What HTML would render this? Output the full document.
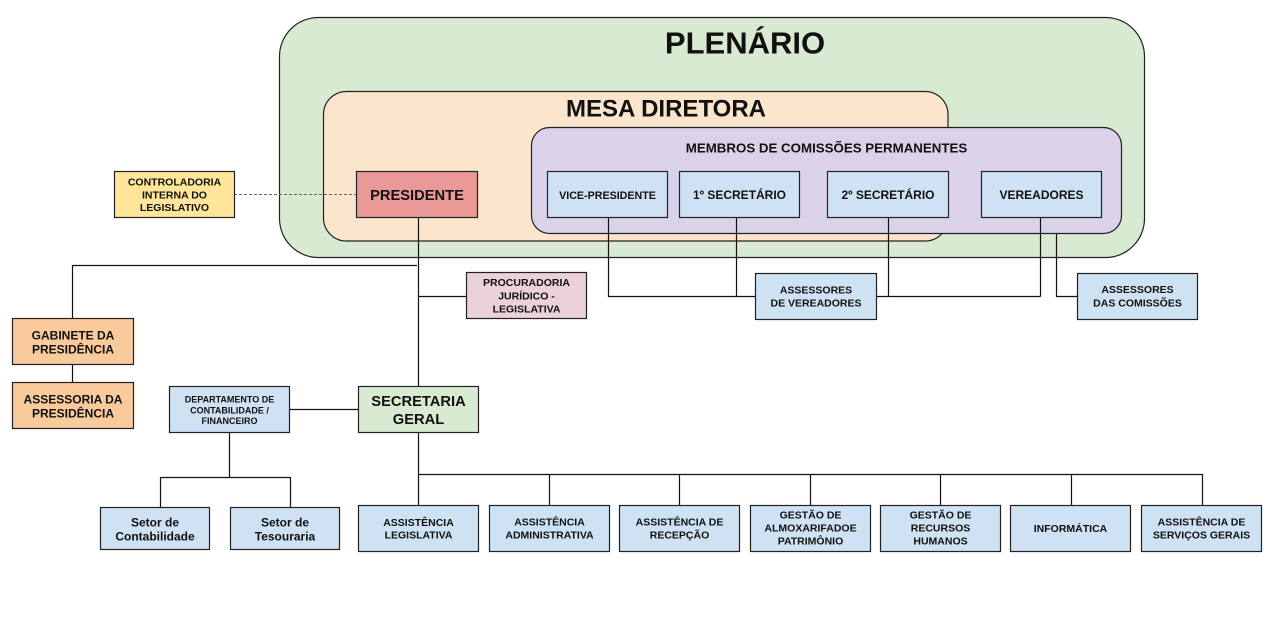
<!DOCTYPE html>
<html><head><meta charset="utf-8"><style>
html,body{margin:0;padding:0;background:#fff;}
svg{display:block;}
text{font-family:"Liberation Sans",Arial,sans-serif;font-weight:bold;fill:#111;text-anchor:middle;}
</style></head><body>
<svg width="1287" height="628" viewBox="0 0 1287 628" xmlns="http://www.w3.org/2000/svg">
<rect x="0" y="0" width="1287" height="628" fill="#fff"/>
<!-- containers -->
<rect x="279.5" y="17.5" width="865" height="240" rx="39" ry="39" fill="#d9ead3" stroke="#222" stroke-width="1.2"/>
<rect x="323.5" y="91.5" width="624.5" height="149.5" rx="23" ry="23" fill="#fce5cd" stroke="#222" stroke-width="1.2"/>
<rect x="531.5" y="127.5" width="590" height="106" rx="18" ry="18" fill="#d9d2e9" stroke="#222" stroke-width="1.2"/>
<text x="745" y="53.5" font-size="31">PLENÁRIO</text>
<text x="666" y="116.5" font-size="24">MESA DIRETORA</text>
<text x="826.5" y="152.3" font-size="13.3">MEMBROS DE COMISSÕES PERMANENTES</text>

<!-- connectors -->
<g stroke="#111" stroke-width="1.2" fill="none">
<line x1="418.5" y1="217" x2="418.5" y2="386"/>
<line x1="72.5" y1="265.5" x2="417" y2="265.5"/>
<line x1="72.5" y1="265" x2="72.5" y2="318"/>
<line x1="72.5" y1="364" x2="72.5" y2="382"/>
<line x1="418" y1="296.5" x2="466" y2="296.5"/>
<line x1="289" y1="409.5" x2="358" y2="409.5"/>
<line x1="229.5" y1="432" x2="229.5" y2="477.5"/>
<line x1="160.5" y1="477.5" x2="290.5" y2="477.5"/>
<line x1="160.5" y1="477" x2="160.5" y2="507"/>
<line x1="290.5" y1="477" x2="290.5" y2="507"/>
<line x1="418.5" y1="432" x2="418.5" y2="505"/>
<line x1="418" y1="474.5" x2="1202.5" y2="474.5"/>
<line x1="549.5" y1="474" x2="549.5" y2="505"/>
<line x1="679.5" y1="474" x2="679.5" y2="505"/>
<line x1="810.5" y1="474" x2="810.5" y2="505"/>
<line x1="940.5" y1="474" x2="940.5" y2="505"/>
<line x1="1071.5" y1="474" x2="1071.5" y2="505"/>
<line x1="1202.5" y1="474" x2="1202.5" y2="505"/>
<polyline points="608.5,217 608.5,296.5 755,296.5"/>
<line x1="736.5" y1="217" x2="736.5" y2="296.5"/>
<polyline points="888.5,217 888.5,296.5 876,296.5"/>
<line x1="888" y1="296.5" x2="1040.5" y2="296.5"/>
<line x1="1040.5" y1="217" x2="1040.5" y2="296.5"/>
<polyline points="1056.5,233 1056.5,296.5 1077,296.5"/>
</g>
<line x1="234" y1="194.5" x2="356" y2="194.5" stroke="#666" stroke-width="1" stroke-dasharray="3,2"/>

<!-- boxes -->
<g stroke="#222" stroke-width="1.2">
<rect x="114.5" y="171.5" width="120" height="46" fill="#ffe599"/>
<rect x="356.5" y="171.5" width="121" height="46" fill="#ea9999"/>
<rect x="547.5" y="171.5" width="120" height="46" fill="#cfe2f3"/>
<rect x="679.5" y="171.5" width="120" height="46" fill="#cfe2f3"/>
<rect x="827.5" y="171.5" width="121" height="46" fill="#cfe2f3"/>
<rect x="981.5" y="171.5" width="120" height="46" fill="#cfe2f3"/>
<rect x="466.5" y="272.5" width="120" height="46" fill="#ead1dc"/>
<rect x="755.5" y="273.5" width="121" height="46" fill="#cfe2f3"/>
<rect x="1077.5" y="273.5" width="120" height="46" fill="#cfe2f3"/>
<rect x="12.5" y="318.5" width="121" height="46" fill="#f9cb9c"/>
<rect x="12.5" y="382.5" width="121" height="46" fill="#f9cb9c"/>
<rect x="169.5" y="386.5" width="120" height="46" fill="#cfe2f3"/>
<rect x="358.5" y="386.5" width="120" height="46" fill="#d9ead3"/>
<rect x="100.5" y="507.5" width="109" height="42" fill="#cfe2f3"/>
<rect x="230.5" y="507.5" width="109" height="42" fill="#cfe2f3"/>
<rect x="358.5" y="505.5" width="120" height="46" fill="#cfe2f3"/>
<rect x="489.5" y="505.5" width="120" height="46" fill="#cfe2f3"/>
<rect x="619.5" y="505.5" width="120" height="46" fill="#cfe2f3"/>
<rect x="750.5" y="505.5" width="120" height="46" fill="#cfe2f3"/>
<rect x="880.5" y="505.5" width="120" height="46" fill="#cfe2f3"/>
<rect x="1010.5" y="505.5" width="120" height="46" fill="#cfe2f3"/>
<rect x="1141.5" y="505.5" width="120" height="46" fill="#cfe2f3"/>
</g>

<!-- labels -->
<g font-size="10.5">
<text x="174.5" y="185.7">CONTROLADORIA</text>
<text x="174.5" y="198.3">INTERNA DO</text>
<text x="174.5" y="211">LEGISLATIVO</text>
</g>
<text x="417" y="199.8" font-size="14.7">PRESIDENTE</text>
<text x="607.5" y="198.8" font-size="10.7">VICE-PRESIDENTE</text>
<text x="739.5" y="199" font-size="12">1º SECRETÁRIO</text>
<text x="888" y="199" font-size="12">2º SECRETÁRIO</text>
<text x="1041.5" y="199" font-size="12">VEREADORES</text>
<g font-size="10.5">
<text x="526.5" y="286">PROCURADORIA</text>
<text x="526.5" y="299.3">JURÍDICO -</text>
<text x="526.5" y="312.7">LEGISLATIVA</text>
<text x="816" y="293.3">ASSESSORES</text>
<text x="816" y="306.7">DE VEREADORES</text>
<text x="1137.5" y="293">ASSESSORES</text>
<text x="1137.5" y="306.7">DAS COMISSÕES</text>
</g>
<g font-size="12">
<text x="73" y="339.3">GABINETE DA</text>
<text x="73" y="353.3">PRESIDÊNCIA</text>
<text x="73" y="403.3">ASSESSORIA DA</text>
<text x="73" y="417.3">PRESIDÊNCIA</text>
<text x="155" y="526.7">Setor de</text>
<text x="155" y="540.7">Contabilidade</text>
<text x="285" y="526.7">Setor de</text>
<text x="285" y="540.7">Tesouraria</text>
</g>
<g font-size="9">
<text x="229.5" y="402.3">DEPARTAMENTO DE</text>
<text x="229.5" y="413.3">CONTABILIDADE /</text>
<text x="229.5" y="424">FINANCEIRO</text>
</g>
<g font-size="14.7">
<text x="418.5" y="406">SECRETARIA</text>
<text x="418.5" y="424">GERAL</text>
</g>
<g font-size="10.5">
<text x="418.5" y="525.8">ASSISTÊNCIA</text>
<text x="418.5" y="538.6">LEGISLATIVA</text>
<text x="549.5" y="525.5">ASSISTÊNCIA</text>
<text x="549.5" y="538.3">ADMINISTRATIVA</text>
<text x="679.5" y="525.5">ASSISTÊNCIA DE</text>
<text x="679.5" y="538.3">RECEPÇÃO</text>
<text x="810.5" y="518.5">GESTÃO DE</text>
<text x="810.5" y="531.5">ALMOXARIFADOE</text>
<text x="810.5" y="544.3">PATRIMÔNIO</text>
<text x="940.5" y="518.5">GESTÃO DE</text>
<text x="940.5" y="531.5">RECURSOS</text>
<text x="940.5" y="544.3">HUMANOS</text>
<text x="1070.5" y="531.8">INFORMÁTICA</text>
<text x="1201.5" y="525.5">ASSISTÊNCIA DE</text>
<text x="1201.5" y="538.3">SERVIÇOS GERAIS</text>
</g>
</svg>
</body></html>
